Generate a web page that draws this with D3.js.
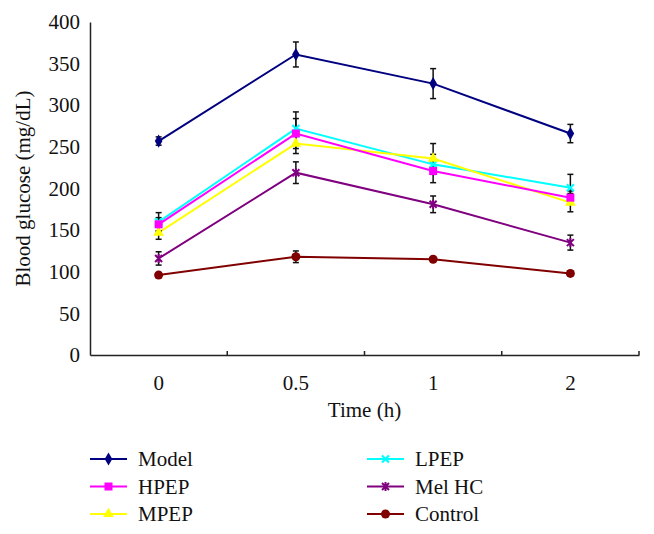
<!DOCTYPE html>
<html>
<head>
<meta charset="utf-8">
<script src="https://cdn.jsdelivr.net/npm/d3@7"></script>
<style>
  body { margin: 0; background: #fff; }
  svg text { font-family: "Liberation Serif", "DejaVu Serif", serif; fill: #111; }
</style>
</head>
<body>
<div id="chart"></div>
<script>
/* blood glucose line chart with error bars */

const times = ["0", "0.5", "1", "2"];
const yTicks = [0, 50, 100, 150, 200, 250, 300, 350, 400];

const model   = [257, 361, 326, 266];
const hpep    = [157, 266, 221, 189];
const mpep    = [147, 254, 236, 183];
const lpep    = [160, 272, 229, 201];
const melhc   = [116, 219, 181, 135];
const control = [96, 118, 115, 98];

const modelErr   = [5, 15, 18, 11];
const hpepErr    = [8, 18, 14, 8];
const mpepErr    = [8, 12, 18, 11];
const lpepErr    = [11, 20, 12, 16];
const melhcErr   = [8, 13, 10, 9];
const controlErr = [3, 7, 3, 3];

const series = [
  { name: "Model",   values: model,   err: modelErr,   color: "#000080", mark: "diamond" },
  { name: "HPEP",    values: hpep,    err: hpepErr,    color: "#ff00ff", mark: "square" },
  { name: "MPEP",    values: mpep,    err: mpepErr,    color: "#ffff00", mark: "triangle" },
  { name: "LPEP",    values: lpep,    err: lpepErr,    color: "#00ffff", mark: "cross" },
  { name: "Mel HC",  values: melhc,   err: melhcErr,   color: "#800080", mark: "star" },
  { name: "Control", values: control, err: controlErr, color: "#800000", mark: "circle" }
];

const width = 654, height = 534,
    margin = ({ top: 22, right: 15, bottom: 179, left: 90 });
const serif = "'Liberation Serif', 'DejaVu Serif', serif";

const svg = d3.select("#chart")
    .append("svg")
    .attr("width", width)
    .attr("height", height)
    .attr("font-family", serif);

let x = d3.scaleBand()
    .domain(times)
    .range([margin.left, width - margin.right]);

let y = d3.scaleLinear()
    .domain([0, 400])
    .range([height - margin.bottom, margin.top]);

const cx = d => x(d) + x.bandwidth() / 2;

/* axes */
const yAxis = svg.append("g")
    .attr("transform", `translate(${margin.left},0)`)
    .call(d3.axisLeft(y).tickValues(yTicks).tickSize(0).tickPadding(10))
    .attr("font-family", serif).attr("font-size", 21);
yAxis.select(".domain").attr("stroke", "#222").attr("stroke-width", 1.5);
yAxis.selectAll("text").attr("fill", "#111");

const xAxis = svg.append("g")
    .attr("transform", `translate(0,${height - margin.bottom})`)
    .call(d3.axisBottom(x).tickSize(0).tickPadding(20))
    .attr("font-family", serif).attr("font-size", 21);
xAxis.select(".domain").attr("stroke", "#222").attr("stroke-width", 1.5);
xAxis.selectAll("text").attr("fill", "#111");

/* small ticks at band edges, pointing up */
svg.append("g")
    .selectAll("line")
    .data(times.slice(1).concat(["end"]))
    .join("line")
    .attr("x1", d => d === "end" ? x.range()[1] : x(d))
    .attr("x2", d => d === "end" ? x.range()[1] : x(d))
    .attr("y1", y(0))
    .attr("y2", y(0) - 4)
    .attr("stroke", "#222")
    .attr("stroke-width", 1.5);

svg.append("text")
    .attr("text-anchor", "middle")
    .attr("x", (x.range()[0] + x.range()[1]) / 2)
    .attr("y", 417)
    .attr("font-size", 21)
    .text("Time (h)");

svg.append("text")
    .attr("text-anchor", "middle")
    .attr("transform", `translate(30,${(y(0) + y(400)) / 2}) rotate(-90)`)
    .attr("font-size", 21)
    .text("Blood glucose (mg/dL)");

/* markers */
function drawMark(g, type, color) {
  if (type === "diamond") {
    g.append("path").attr("d", d3.symbol(d3.symbolDiamond, 50)()).attr("fill", color);
  } else if (type === "square") {
    g.append("rect").attr("x", -4).attr("y", -4).attr("width", 8).attr("height", 8).attr("fill", color);
  } else if (type === "triangle") {
    g.append("path").attr("d", d3.symbol(d3.symbolTriangle, 50)()).attr("fill", color);
  } else if (type === "cross") {
    g.append("path").attr("d", "M-3.5,-3.5L3.5,3.5M-3.5,3.5L3.5,-3.5")
      .attr("stroke", color).attr("stroke-width", 2.2);
  } else if (type === "star") {
    g.append("path").attr("d", "M-3.5,-3.5L3.5,3.5M-3.5,3.5L3.5,-3.5M0,-4.5L0,4.5")
      .attr("stroke", color).attr("stroke-width", 2);
  } else {
    g.append("circle").attr("r", 4.5).attr("fill", color);
  }
}

const line = d3.line()
    .x((d, i) => cx(times[i]))
    .y(d => y(d));

/* draw from bottom to top so Model ends up over the others */
const order = series.slice().reverse();

order.forEach(s => {
  svg.append("path")
      .datum(s.values)
      .attr("d", line)
      .attr("fill", "none")
      .attr("stroke", s.color)
      .attr("stroke-width", 2);
});

order.forEach(s => {
  const eb = svg.append("g");
  s.values.forEach((v, i) => {
    const px = cx(times[i]);
    const top = y(v + s.err[i]), bot = y(v - s.err[i]);
    eb.append("line").attr("x1", px).attr("x2", px).attr("y1", top).attr("y2", bot)
      .attr("stroke", "#111").attr("stroke-width", 1.5);
    [top, bot].forEach(yy => eb.append("line")
      .attr("x1", px - 3).attr("x2", px + 3).attr("y1", yy).attr("y2", yy)
      .attr("stroke", "#111").attr("stroke-width", 1.5));
  });
});

order.forEach(s => {
  s.values.forEach((v, i) => {
    const g = svg.append("g").attr("transform", `translate(${cx(times[i])},${y(v)})`);
    drawMark(g, s.mark, s.color);
  });
});

/* legend, clipped at the bottom like the original */
svg.append("clipPath").attr("id", "legclip")
  .append("rect").attr("x", 0).attr("y", 430).attr("width", width).attr("height", 91);

const legend = svg.append("g").attr("clip-path", "url(#legclip)");
series.forEach((s, i) => {
  const col = i < 3 ? 0 : 1, row = i % 3;
  const lx = col === 0 ? 90 : 367, ly = 459 + row * 27.5;
  const g = legend.append("g").attr("transform", `translate(${lx},${ly})`);
  g.append("line").attr("x1", 0).attr("x2", 37).attr("y1", 0).attr("y2", 0)
    .attr("stroke", s.color).attr("stroke-width", 2);
  drawMark(g.append("g").attr("transform", "translate(18.5,0)"), s.mark, s.color);
  g.append("text").attr("x", 48).attr("y", 0).attr("dy", "0.35em")
    .attr("font-size", 21).text(s.name);
});
</script>
</body>
</html>
